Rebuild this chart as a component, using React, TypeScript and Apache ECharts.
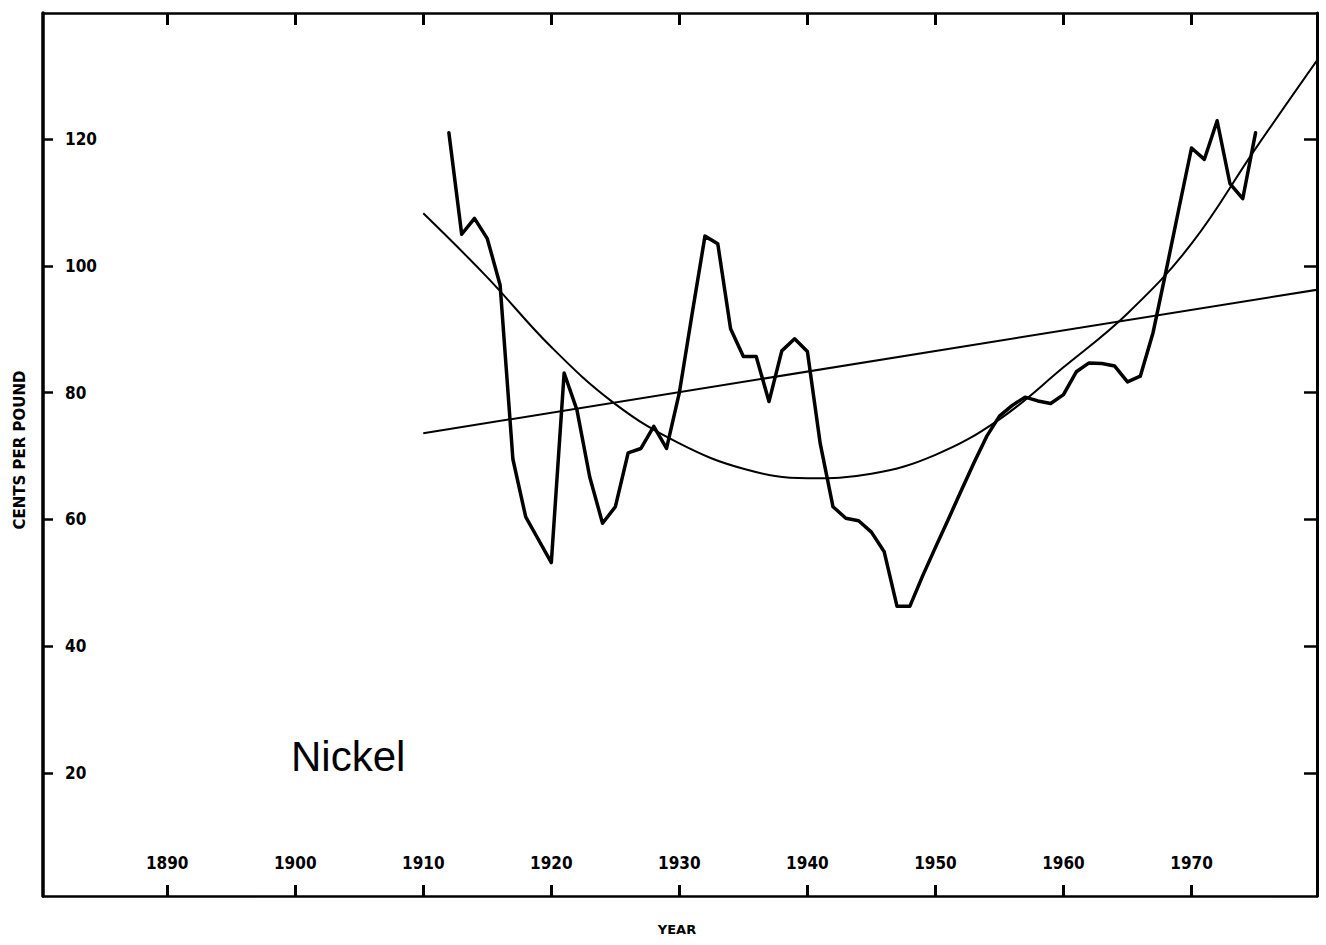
import React, { useEffect, useRef } from "react";
import * as echarts from "echarts";

// Annual nickel price, cents per pound
const years: number[] = [
  1912, 1913, 1914, 1915, 1916, 1917, 1918, 1919, 1920, 1921, 1922, 1923, 1924, 1925, 1926, 1927,
  1928, 1929, 1930, 1931, 1932, 1933, 1934, 1935, 1936, 1937, 1938, 1939, 1940, 1941, 1942, 1943,
  1944, 1945, 1946, 1947, 1948, 1949, 1950, 1951, 1952, 1953, 1954, 1955, 1956, 1957, 1958, 1959,
  1960, 1961, 1962, 1963, 1964, 1965, 1966, 1967, 1968, 1969, 1970, 1971, 1972, 1973, 1974, 1975,
];
const prices: number[] = [
  121, 105, 107.5, 104.3, 97, 69.5, 60.4, 56.8, 53.2, 83.1, 77.3, 66.7, 59.4, 62, 70.5, 71.2,
  74.7, 71.2, 80, 92.5, 104.7, 103.5, 90.1, 85.7, 85.7, 78.6, 86.6, 88.5, 86.5, 72, 62, 60.2,
  59.8, 58, 54.9, 46.3, 46.3, 51.1, 55.6, 60, 64.5, 68.9, 73.1, 76.3, 78, 79.3, 78.7, 78.3,
  79.7, 83.3, 84.7, 84.6, 84.2, 81.7, 82.6, 89.5, 99.1, 108.9, 118.6, 116.8, 122.9, 113, 110.6, 121,
];

// Fitted curve
const curveYears: number[] = [1910, 1915, 1920, 1925, 1930, 1935, 1940, 1945, 1950, 1955, 1960, 1965, 1970, 1975, 1980];
const curveValues: number[] = [108.3, 98.2, 87.2, 78.2, 72, 68, 66.5, 67.2, 70.2, 75.8, 84, 92.5, 103.5, 118.5, 133];

// Fitted straight line
const lineYears: number[] = [1910, 1980];
const lineValues: number[] = [73.6, 96.3];

// Tick labels
const xTicks: number[] = [1890, 1900, 1910, 1920, 1930, 1940, 1950, 1960, 1970];
const yTicks: number[] = [20, 40, 60, 80, 100, 120];

const X_MIN = 1880.3;
const X_MAX = 1979.8;
const Y_MIN = 0.6;
const Y_MAX = 139.9;

const tickFont = "'DejaVu Sans Condensed', 'Liberation Sans Narrow', 'DejaVu Sans', sans-serif";

export default function App() {
  const ref = useRef<HTMLDivElement>(null);

  useEffect(() => {
    document.body.style.margin = "0";
    if (!ref.current) return;
    const chart = echarts.init(ref.current, null, { renderer: "svg" });

    const axisLineStyle = (w: number) => ({ show: true, onZero: false, lineStyle: { color: "#000", width: w } });

    const option: any = {
      animation: false,
      backgroundColor: "#fff",
      grid: { left: 43, right: 9, top: 13, bottom: 49 },
      xAxis: [
        {
          type: "value",
          position: "bottom",
          min: X_MIN,
          max: X_MAX,
          axisLine: axisLineStyle(2.5),
          axisTick: { show: true, inside: true, length: 11, customValues: xTicks, lineStyle: { color: "#000", width: 3 } },
          axisLabel: {
            show: true,
            inside: true,
            margin: 25,
            customValues: xTicks,
            color: "#000",
            fontWeight: "bold",
            fontSize: 17,
            fontFamily: tickFont,
            formatter: (v: number) => String(Math.round(v)),
          },
          splitLine: { show: false },
        },
        {
          type: "value",
          position: "top",
          min: X_MIN,
          max: X_MAX,
          axisLine: axisLineStyle(2.5),
          axisTick: { show: true, inside: true, length: 12, customValues: xTicks, lineStyle: { color: "#000", width: 3 } },
          axisLabel: { show: false },
          splitLine: { show: false },
        },
      ],
      yAxis: [
        {
          type: "value",
          position: "left",
          min: Y_MIN,
          max: Y_MAX,
          axisLine: axisLineStyle(3.5),
          axisTick: { show: true, inside: true, length: 10, customValues: yTicks, lineStyle: { color: "#000", width: 2.5 } },
          axisLabel: {
            show: true,
            inside: true,
            margin: 22,
            customValues: yTicks,
            color: "#000",
            fontWeight: "bold",
            fontSize: 17,
            fontFamily: tickFont,
            formatter: (v: number) => String(Math.round(v)),
          },
          splitLine: { show: false },
        },
        {
          type: "value",
          position: "right",
          min: Y_MIN,
          max: Y_MAX,
          axisLine: axisLineStyle(3),
          axisTick: { show: true, inside: true, length: 13, customValues: yTicks, lineStyle: { color: "#000", width: 2.5 } },
          axisLabel: { show: false },
          splitLine: { show: false },
        },
      ],
      graphic: [
        {
          type: "text",
          x: 20,
          y: 450,
          rotation: Math.PI / 2,
          style: {
            text: "CENTS PER POUND",
            fill: "#000",
            font: "bold 15px 'DejaVu Sans', sans-serif",
            align: "center",
            verticalAlign: "middle",
            textAlign: "center",
            textVerticalAlign: "middle",
          },
        },
        {
          type: "text",
          x: 677,
          y: 929,
          style: {
            text: "YEAR",
            fill: "#000",
            font: "bold 13px 'DejaVu Sans', sans-serif",
            align: "center",
            verticalAlign: "middle",
            textAlign: "center",
            textVerticalAlign: "middle",
          },
        },
        {
          type: "text",
          x: 291,
          y: 756,
          style: {
            text: "Nickel",
            fill: "#000",
            font: "42px 'Liberation Sans', sans-serif",
            align: "left",
            verticalAlign: "middle",
            textAlign: "left",
            textVerticalAlign: "middle",
          },
        },
      ],
      series: [
        {
          type: "line",
          name: "Price",
          xAxisIndex: 0,
          yAxisIndex: 0,
          data: years.map((y, i) => [y, prices[i]]),
          symbol: "none",
          lineStyle: { color: "#000", width: 3.5, join: "round", cap: "round" },
          z: 3,
        },
        {
          type: "line",
          name: "Curve",
          xAxisIndex: 0,
          yAxisIndex: 0,
          data: curveYears.map((y, i) => [y, curveValues[i]]),
          symbol: "none",
          smooth: 0.4,
          lineStyle: { color: "#000", width: 2 },
          z: 2,
        },
        {
          type: "line",
          name: "Linear",
          xAxisIndex: 0,
          yAxisIndex: 0,
          data: lineYears.map((y, i) => [y, lineValues[i]]),
          symbol: "none",
          lineStyle: { color: "#000", width: 2 },
          z: 2,
        },
      ],
    };

    chart.setOption(option);
    return () => chart.dispose();
  }, []);

  return <div ref={ref} style={{ width: 1326, height: 945 }} />;
}
